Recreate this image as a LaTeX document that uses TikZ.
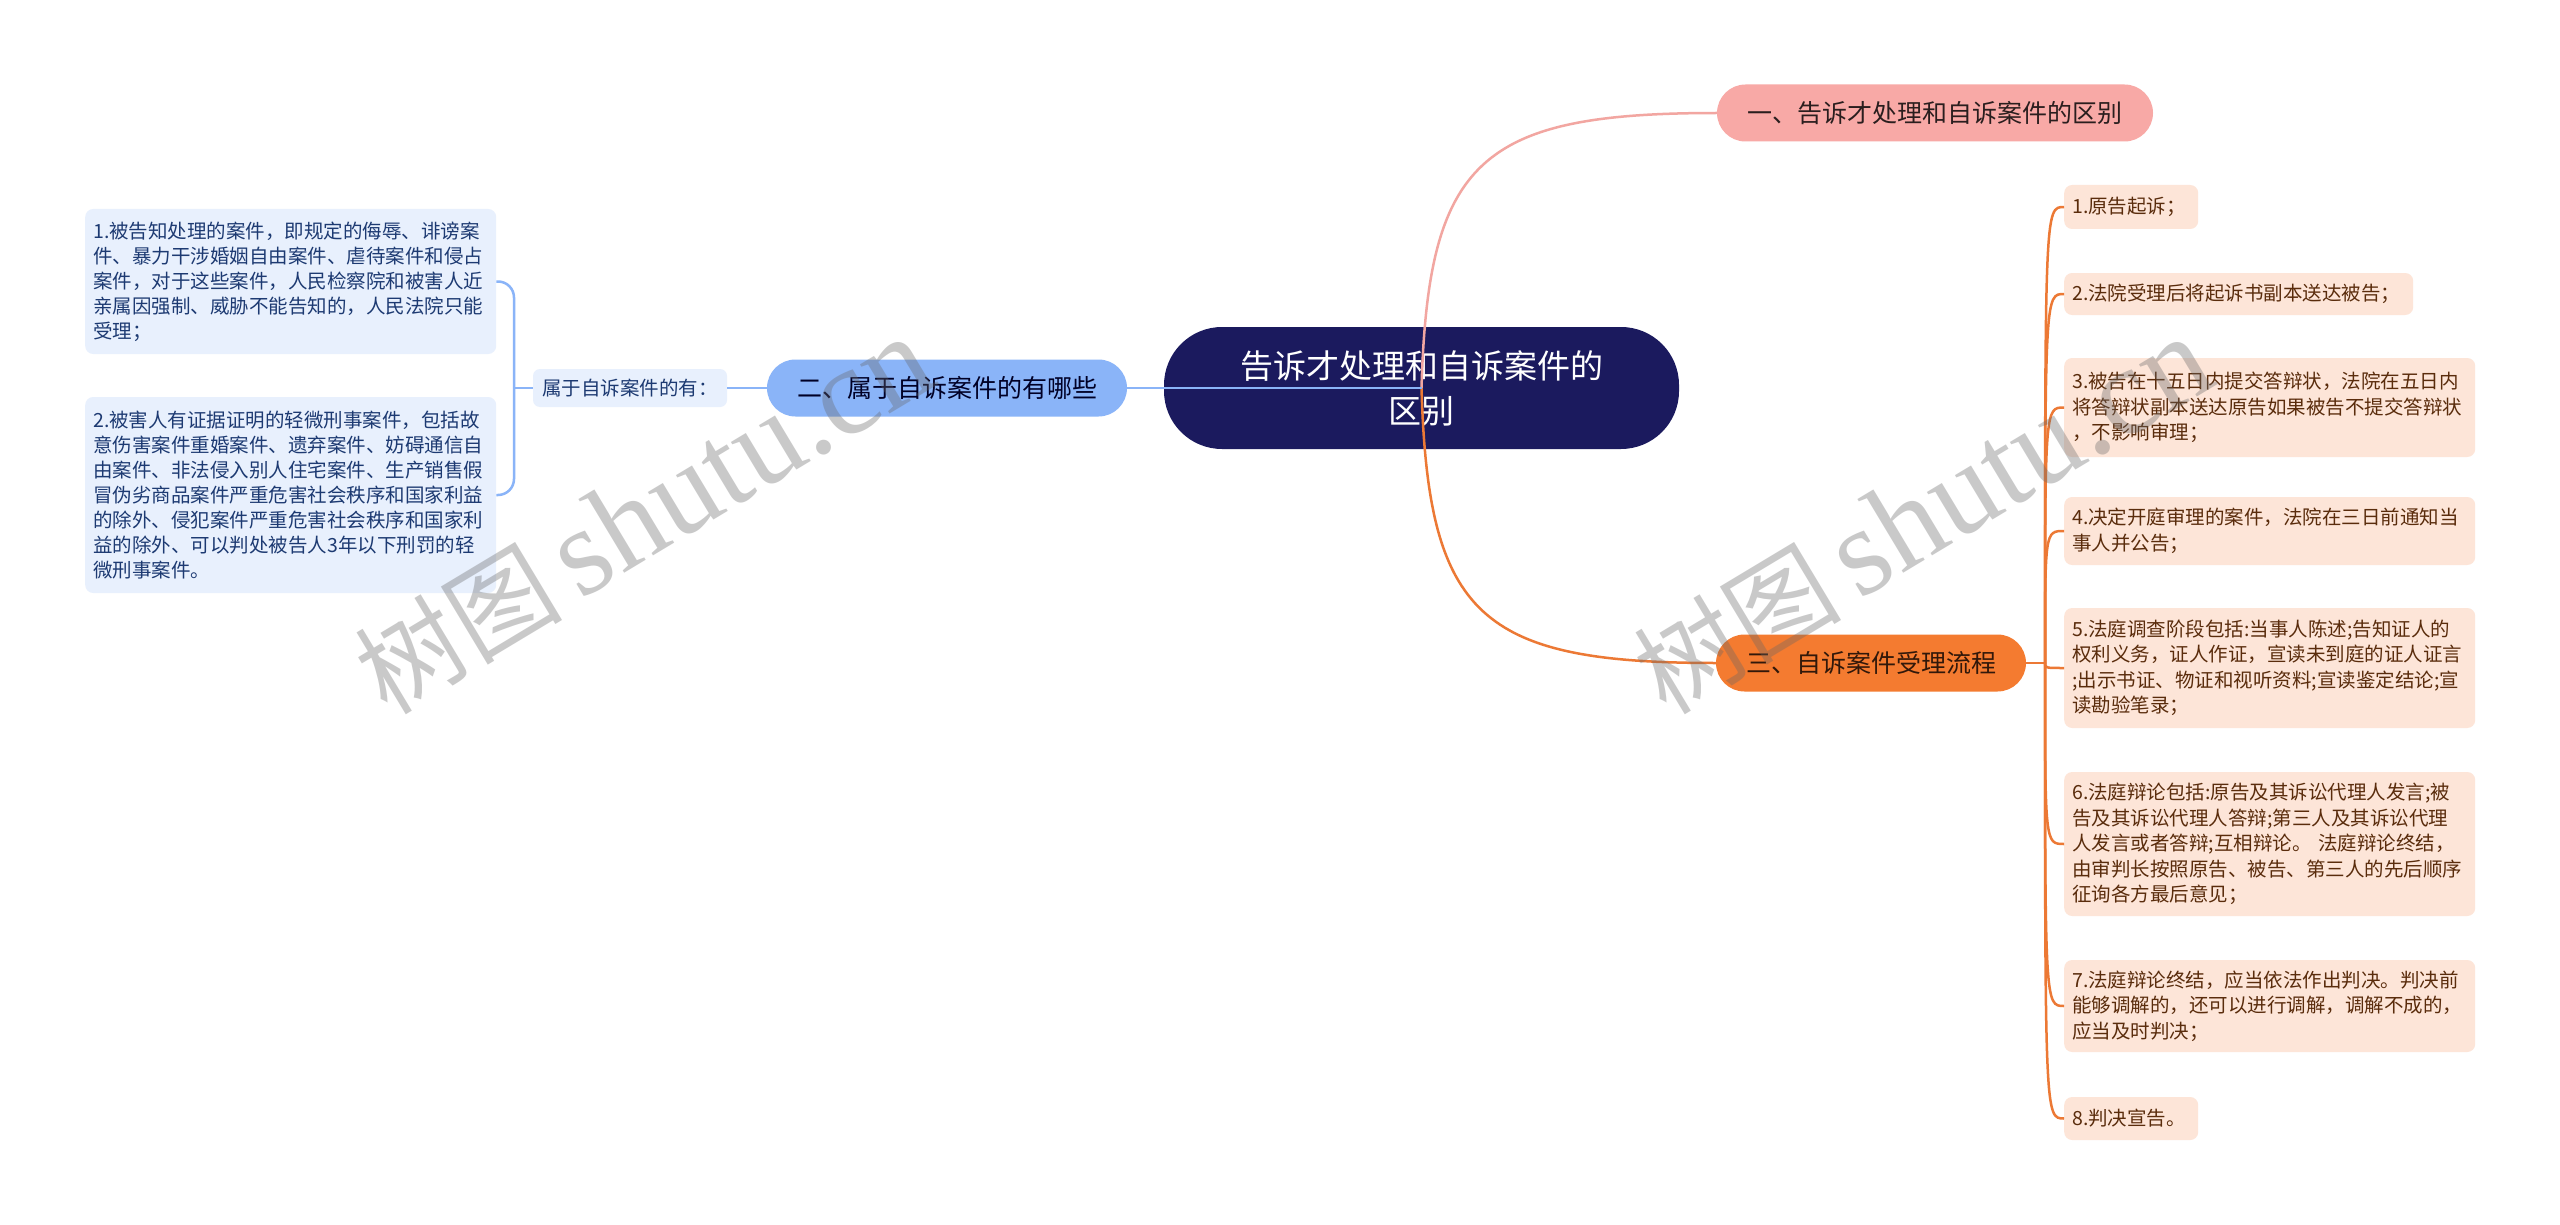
\documentclass[tikz,border=0pt]{standalone}
\usepackage{fontspec}
\setmainfont{Noto Sans CJK SC}
\newfontfamily\wmlat{Liberation Serif}
\definecolor{rootfill}{HTML}{1B1A5E}
\definecolor{pinkfill}{HTML}{F8A9A6}
\definecolor{pinkline}{HTML}{F2A6A1}
\definecolor{bluefill}{HTML}{8AB4F8}
\definecolor{blueline}{HTML}{8AB4F8}
\definecolor{lbfill}{HTML}{E8F0FD}
\definecolor{lbtext}{HTML}{1D3A72}
\definecolor{orfill}{HTML}{F47B30}
\definecolor{orline}{HTML}{EC7935}
\definecolor{rbfill}{HTML}{FDE5D8}
\definecolor{rbtext}{HTML}{5A2C0C}
\definecolor{darktext}{HTML}{2A1E1E}
\begin{document}
\begin{tikzpicture}[x=1pt,y=-1pt,
  rootnode/.style={fill=rootfill, text=white, rounded corners=58, minimum width=515, minimum height=122, inner sep=0, align=center, font=\fontsize{33}{45}\selectfont},
  pill/.style={rounded corners=28.5, minimum height=57, inner sep=0, font=\fontsize{25}{30}\selectfont},
  lbox/.style={fill=lbfill, text=lbtext, rounded corners=8, anchor=west, inner xsep=8, inner ysep=0, text width=395, align=left, font=\fontsize{19.5}{25}\selectfont},
  rbox/.style={fill=rbfill, text=rbtext, rounded corners=8, anchor=west, inner xsep=8, inner ysep=0, text width=#1, align=left, font=\fontsize{19.5}{25.5}\selectfont},
  rbox/.default=395,
  pl/.style={draw=pinkline, line width=2.5},
  bl/.style={draw=blueline, line width=2.5},
  ol/.style={draw=orline, line width=2.5},
  wm/.style={text=black!60, text opacity=0.35, rotate=31, inner sep=0}
]
\useasboundingbox (0,0) rectangle (2560,1225);
\fill[white] (0,0) rectangle (2560,1225);

% root
\node[rootnode] (C) at (1421.5,388) {告诉才处理和自诉案件的\\区别};

% main branches
\node[pill, fill=pinkfill, text=darktext, minimum width=436] (A) at (1935,113) {一、告诉才处理和自诉案件的区别};
\node[pill, fill=bluefill, text=black!85!blue, minimum width=360] (B) at (947,388) {二、属于自诉案件的有哪些};
\node[pill, fill=orfill, text=black!80!orfill, minimum width=310] (T) at (1871,663) {三、自诉案件受理流程};

% left side
\node[fill=lbfill, text=lbtext, rounded corners=7, minimum width=194, minimum height=38, inner sep=0, font=\fontsize{19.5}{24}\selectfont] (S) at (630,388) {属于自诉案件的有：};
\node[lbox, minimum height=145] (L1) at (85,281.5) {1.被告知处理的案件，即规定的侮辱、诽谤案\\件、暴力干涉婚姻自由案件、虐待案件和侵占\\案件，对于这些案件，人民检察院和被害人近\\亲属因强制、威胁不能告知的，人民法院只能\\受理；};
\node[lbox, minimum height=196] (L2) at (85,495) {2.被害人有证据证明的轻微刑事案件，包括故\\意伤害案件重婚案件、遗弃案件、妨碍通信自\\由案件、非法侵入别人住宅案件、生产销售假\\冒伪劣商品案件严重危害社会秩序和国家利益\\的除外、侵犯案件严重危害社会秩序和国家利\\益的除外、可以判处被告人3年以下刑罚的轻\\微刑事案件。};

% right side
\node[rbox=118, minimum height=44] (R1) at (2064,207) {1.原告起诉；};
\node[rbox=333, minimum height=42] (R2) at (2064,294) {2.法院受理后将起诉书副本送达被告；};
\node[rbox, minimum height=99] (R3) at (2064,407.5) {3.被告在十五日内提交答辩状，法院在五日内\\将答辩状副本送达原告如果被告不提交答辩状\\，不影响审理；};
\node[rbox, minimum height=68] (R4) at (2064,531) {4.决定开庭审理的案件，法院在三日前通知当\\事人并公告；};
\node[rbox, minimum height=120] (R5) at (2064,668) {5.法庭调查阶段包括:当事人陈述;告知证人的\\权利义务，证人作证，宣读未到庭的证人证言\\;出示书证、物证和视听资料;宣读鉴定结论;宣\\读勘验笔录；};
\node[rbox, minimum height=144] (R6) at (2064,844) {6.法庭辩论包括:原告及其诉讼代理人发言;被\\告及其诉讼代理人答辩;第三人及其诉讼代理\\人发言或者答辩;互相辩论。~法庭辩论终结，\\由审判长按照原告、被告、第三人的先后顺序\\征询各方最后意见；};
\node[rbox, minimum height=92] (R7) at (2064,1006) {7.法庭辩论终结，应当依法作出判决。判决前\\能够调解的，还可以进行调解，调解不成的，\\应当及时判决；};
\node[rbox=118, minimum height=43] (R8) at (2064,1118.5) {8.判决宣告。};

% connectors from root
\draw[pl] (C.center) .. controls (1428,160) and (1480,113) .. (A.west);
\draw[ol] (C.center) .. controls (1428,616) and (1480,663) .. (T.west);
\draw[bl] (C.center) -- (B.east);

% left connectors
\coordinate (bk) at (514,388);
\draw[bl] (B.west) -- (S.east);
\draw[bl] (S.west) -- (bk);
\draw[bl, rounded corners=16] (L1.east) -| (bk) |- (L2.east);

% right connectors
\coordinate (rj) at (2045,663);
\draw[ol] (T.east) -- (rj);
\foreach \r in {R1,R2,R3,R4,R5,R6,R7,R8}{
  \draw[ol] (rj) .. controls (rj |- \r.west) and (rj |- \r.west) .. (\r.west);
}

% watermarks
\node[wm] (W1) at (644,516) {\fontsize{104}{110}\selectfont 树图\,\wmlat\fontsize{125}{125}\selectfont shutu.cn};
\node[wm] (W2) at (1923,516) {\fontsize{104}{110}\selectfont 树图\,\wmlat\fontsize{125}{125}\selectfont shutu.cn};
\end{tikzpicture}
\end{document}
